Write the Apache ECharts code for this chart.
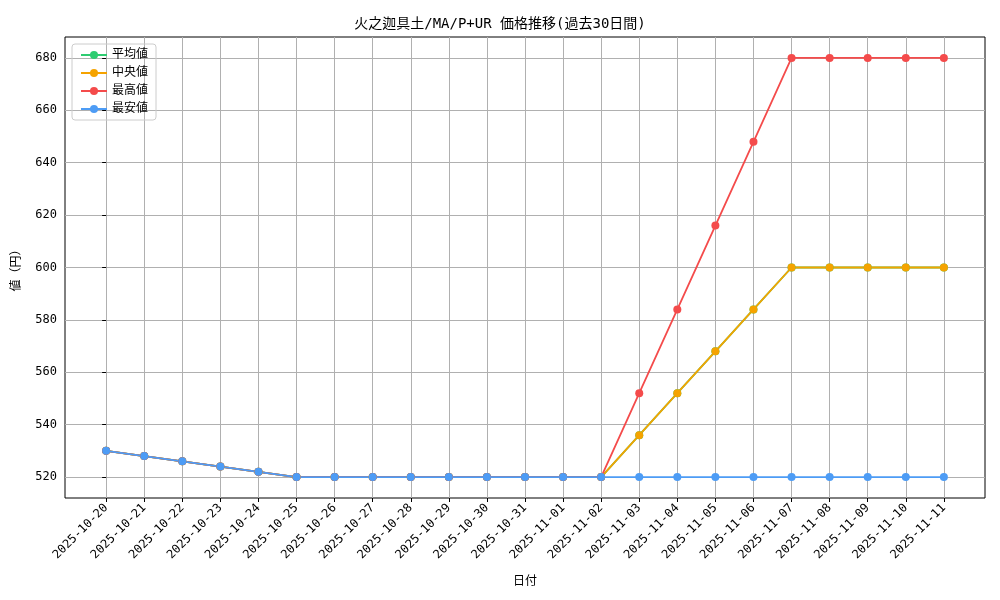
<!DOCTYPE html>
<html>
<head>
<meta charset="utf-8">
<script src="https://cdn.jsdelivr.net/npm/echarts@6/dist/echarts.min.js"></script>
<style>html,body{margin:0;background:#fff}#chartmain{width:1000px;height:600px}</style>
</head>
<body>
<div id="chartmain"></div>
<script>
var dates = ['2025-10-20','2025-10-21','2025-10-22','2025-10-23','2025-10-24','2025-10-25','2025-10-26','2025-10-27','2025-10-28','2025-10-29','2025-10-30','2025-10-31','2025-11-01','2025-11-02','2025-11-03','2025-11-04','2025-11-05','2025-11-06','2025-11-07','2025-11-08','2025-11-09','2025-11-10','2025-11-11'];
var avgData = [530,528,526,524,522,520,520,520,520,520,520,520,520,520,536,552,568,584,600,600,600,600,600];
var medData = [530,528,526,524,522,520,520,520,520,520,520,520,520,520,536,552,568,584,600,600,600,600,600];
var maxData = [530,528,526,524,522,520,520,520,520,520,520,520,520,520,552,584,616,648,680,680,680,680,680];
var minData = [530,528,526,524,522,520,520,520,520,520,520,520,520,520,520,520,520,520,520,520,520,520,520];
var yTicks = [520,540,560,580,600,620,640,660,680];

var font = "'DejaVu Sans Mono', 'Noto Sans CJK JP', monospace";
var idx = dates.map(function (d, i) { return i; });

function pairs(arr) {
    return arr.map(function (v, i) { return [i, v]; });
}
function line(name, color, arr) {
    return {
        name: name, type: 'line', data: pairs(arr), color: color,
        symbol: 'circle', symbolSize: 8, lineStyle: {width: 1.8}, animation: false
    };
}

var myChart = echarts.init(document.getElementById('chartmain'));
myChart.setOption({
    textStyle: {fontFamily: font},
    title: {text: '火之迦具土/MA/P+UR 価格推移(過去30日間)', left: 'center', top: 12,
        textStyle: {fontSize: 14, fontWeight: 'normal', color: '#000', fontFamily: font}},
    legend: {
        orient: 'vertical', left: 72, top: 44, itemGap: 6, itemWidth: 26, itemHeight: 10,
        borderColor: '#ccc', borderWidth: 1, borderRadius: 3, padding: [5, 8],
        textStyle: {fontSize: 12, color: '#000', fontFamily: font},
        data: ['平均値', '中央値', '最高値', '最安値']
    },
    grid: {left: 65, right: 15, top: 37, bottom: 102, show: true, borderColor: '#000', borderWidth: 1},
    xAxis: {
        type: 'value', min: -1.08, max: 23.08,
        name: '日付', nameLocation: 'middle', nameGap: 78,
        nameTextStyle: {fontSize: 12, color: '#000', fontFamily: font},
        axisLine: {show: false},
        axisTick: {show: true, customValues: idx, length: 4, lineStyle: {color: '#000'}},
        axisLabel: {customValues: idx, rotate: 45, fontSize: 12, color: '#000', fontFamily: font,
            formatter: function (v) { return dates[Math.round(v)]; }},
        splitLine: {show: true, lineStyle: {color: '#b0b0b0'}}
    },
    yAxis: {
        type: 'value', min: 512, max: 688,
        name: '値（円）', nameLocation: 'middle', nameGap: 42,
        nameTextStyle: {fontSize: 12, color: '#000', fontFamily: font},
        axisLine: {show: false},
        axisTick: {show: true, customValues: yTicks, length: 4, lineStyle: {color: '#000'}},
        axisLabel: {customValues: yTicks, fontSize: 12, color: '#000', fontFamily: font},
        splitLine: {show: true, lineStyle: {color: '#b0b0b0'}}
    },
    series: [
        line('平均値', '#2ecc71', avgData),
        line('中央値', '#f5a300', medData),
        line('最高値', '#f44b4b', maxData),
        line('最安値', '#4d9cf5', minData)
    ]
});
</script>
</body>
</html>
